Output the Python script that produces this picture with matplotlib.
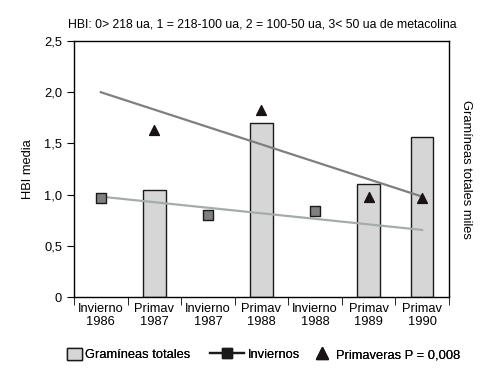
import matplotlib.pyplot as plt

plt.rcParams['font.family'] = ['Liberation Sans', 'DejaVu Sans']

categorias = ['Invierno\n1986', 'Primav\n1987', 'Invierno\n1987', 'Primav\n1988',
              'Invierno\n1988', 'Primav\n1989', 'Primav\n1990']

# gramíneas totales (en escala del eje HBI)
barras_x = [1, 3, 5, 6]
barras_val = [1.045, 1.70, 1.10, 1.56]

# HBI medio en inviernos
inv_x = [0, 2, 4]
inv_val = [0.97, 0.80, 0.84]

# HBI medio en primaveras
prim_x = [1, 3, 5, 6]
prim_val = [1.63, 1.83, 0.98, 0.97]

# rectas de tendencia (inicio y fin)
tend_x = [0, 6]
tend_prim = [2.0, 0.98]
tend_inv = [0.98, 0.655]

fs = 9.3

fig = plt.figure(figsize=(4.81, 3.72), dpi=100)
ax = fig.add_axes([0.1538, 0.2016, 0.7797, 0.6882])

ax.bar(barras_x, barras_val, width=0.42, color='#d6d6d6', edgecolor='#1a1a1a',
       linewidth=1.0, zorder=2)
ax.plot(tend_x, tend_prim, color='#7f7f7f', lw=1.6, zorder=3)
ax.plot(tend_x, tend_inv, color='#a6aca8', lw=1.6, zorder=3)
ax.scatter(inv_x, inv_val, marker='s', s=45, color='#808080', edgecolor='#1a1a1a',
           linewidth=1.0, zorder=4)
ax.scatter(prim_x, prim_val, marker='^', s=50, color='#1a1216', zorder=4)

ax.set_xlim(-0.5, 6.5)
ax.set_ylim(0, 2.5)
ax.set_yticks([0, 0.5, 1.0, 1.5, 2.0, 2.5])
ax.set_yticklabels(['0', '0,5', '1,0', '1,5', '2,0', '2,5'], fontsize=fs)
ax.set_xticks(range(7))
ax.set_xticklabels(categorias, fontsize=fs, linespacing=1.2)
ax.tick_params(axis='x', length=0, pad=4)
ax.set_xticks([i + 0.5 for i in range(-1, 7)], minor=True)
ax.tick_params(axis='x', which='minor', length=6, direction='out')
ax.tick_params(axis='y', length=5, direction='out')
for s in ax.spines.values():
    s.set_linewidth(1.0)

ax.set_ylabel('HBI media', fontsize=fs, labelpad=7)
fig.text(0.968, 0.545, 'Gramíneas totales miles', rotation=-90, fontsize=fs,
         ha='center', va='center')
fig.text(0.545, 0.935, 'HBI: 0> 218 ua, 1 = 218-100 ua, 2 = 100-50 ua, 3< 50 ua de metacolina',
         fontsize=8.8, ha='center', va='center')

# leyenda en tres piezas para controlar la posición de cada elemento
h1 = plt.Rectangle((0, 0), 1, 1, facecolor='#d6d6d6', edgecolor='#1a1a1a', lw=1.0)
h2 = plt.Line2D([], [], color='#1a1a1a', marker='s', markersize=7, lw=1.6)
h3 = plt.Line2D([], [], color='#1a1216', marker='^', markersize=8, lw=0)
items = [(h1, 'Gramíneas totales', 0.14, 1.1, 0.3),
         (h2, 'Inviernos', 0.437, 2.6, 0.3),
         (h3, 'Primaveras P = 0,008', 0.655, 1.0, 0.6)]
for h, lab, xpos, hl, pad in items:
    leg = fig.legend([h], [lab], loc='center left', bbox_to_anchor=(xpos, 0.046),
                     frameon=False, fontsize=fs, handlelength=hl, handleheight=1.0,
                     handletextpad=pad, borderpad=0, borderaxespad=0)
    fig.add_artist(leg)

fig.savefig('out.png', dpi=100)
